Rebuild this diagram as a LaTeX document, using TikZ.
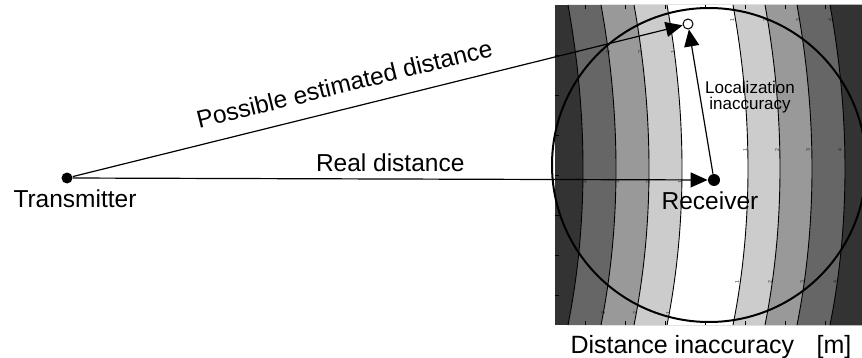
\documentclass[tikz,border=0pt]{standalone}
\usepackage{fontspec}
\setmainfont{Liberation Sans}
\usetikzlibrary{arrows.meta, positioning}

\begin{document}
\begin{tikzpicture}[x=0.5pt, y=-0.5pt,
        lab/.style={font=\fontsize{12.25}{14}\selectfont, inner sep=0pt},
        smalllab/.style={font=\fontsize{8.5}{8}\selectfont, align=center, inner sep=0pt},
        num/.style={font=\fontsize{2.6}{3}\selectfont, rotate=90, inner sep=0pt, text=black!85},
        dot/.style={circle, fill=black, inner sep=0pt, minimum size=5.5pt},
        odot/.style={circle, draw=black, fill=white, line width=0.5pt, inner sep=0pt, minimum size=5pt},
        arr/.style={-{Triangle[length=8.5pt,width=7.5pt]}, line width=0.6pt},
        contour/.style={line width=0.45pt}]
      \useasboundingbox (0,0) rectangle (862,358);
      % contour map
      \fill[black!80] (555,5) rectangle (862,325);
      \foreach \x/\c in {568/black!60, 601/black!40, 634/black!20, 667/white,
                         733/black!20, 765/black!40, 797/black!60, 830/black!80}
        \fill[\c] (\x,5) .. controls ({\x+20},115) and ({\x+20},225) .. (\x,325)
                  -- (862,325) -- (862,5) -- cycle;
      \foreach \x in {568, 601, 634, 667, 733, 765, 797, 830}
        \draw[contour] (\x,5) .. controls ({\x+20},115) and ({\x+20},225) .. (\x,325);
      \foreach \x in {585, 625, 665, 705, 745, 785, 825} {
        \draw[contour] (\x,5) -- (\x,9);
        \draw[contour] (\x,325) -- (\x,321);
      }
      \foreach \y in {55, 95, 135, 175, 215, 255, 295}
        \draw[contour] (555,\y) -- (559,\y);
      % contour labels
      \foreach \x/\n in {577/4, 608/3, 640/2, 673/1}
        \node[num] at (\x,52) {\n};
      \foreach \x/\n in {585/4, 617/3, 648/2, 680/1}
        \node[num] at (\x,182) {\n};
      \foreach \x/\n in {570/4, 603/3, 635/2, 668/1}
        \node[num] at (\x,313) {\n};
      \foreach \x/\n in {732/1, 765/2, 798/3, 830/4}
        \node[num] at (\x,20) {\n};
      \foreach \x/\n in {745/1, 777/2, 808/3, 840/4}
        \node[num] at (\x,150) {\n};
      \foreach \x/\n in {737/1, 770/2, 802/3, 835/4}
        \node[num] at (\x,282) {\n};
      \draw[line width=1pt] (709,165) circle[radius=157];
      % points and distances
      \node[dot] (tx) at (67,178) {};
      \node[dot, minimum size=6pt] (rx) at (714,180) {};
      \node[odot] (est) at (688,24) {};
      \draw[arr] (tx) -- node[lab, above=3.5pt] {Real distance} (rx);
      \draw[arr] (tx) -- node[lab, sloped, above=7.5pt, pos=0.455] {Possible estimated distance} (est);
      \draw[arr] (rx) -- (est);
      \node[lab, anchor=base] (txlab) at (75,207) {Transmitter};
      \node[lab, anchor=base] (rxlab) at (710,209) {Receiver};
      \node[smalllab] (loclab) at (750,97) {Localization\\inaccuracy};
      \node[lab, anchor=base, font=\fontsize{12.5}{14}\selectfont] (axlab) at (711,353)
        {Distance inaccuracy\hspace{0.9em}[m]};
    \end{tikzpicture}
\end{document}
